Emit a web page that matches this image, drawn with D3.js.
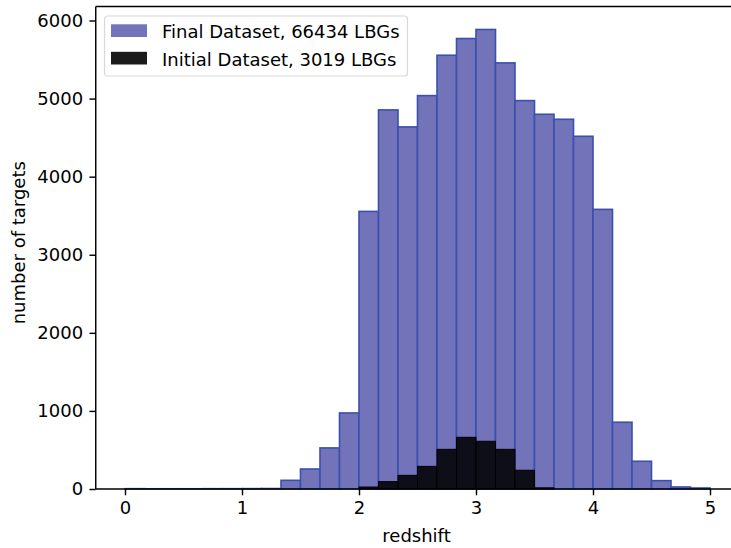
<!DOCTYPE html>
<html>
<head>
<meta charset="utf-8">
<script src="https://cdn.jsdelivr.net/npm/d3@7"></script>
<style>
  html, body { margin: 0; padding: 0; background: #fff; }
  svg { display: block; font-family: "DejaVu Sans", sans-serif; }
</style>
</head>
<body>
<svg id="chart" width="731" height="548"></svg>
<script>
// Histogram bin edges: 30 bins of width 1/6 between redshift 0 and 5
const binCount = 30;
const zMin = 0, zMax = 5;

// Counts per bin, final sample (66434 LBGs)
const finalCounts = [4, 3, 3, 3, 4, 4, 5, 6,
  111, 256, 526, 974, 3555, 4855, 4637, 5038, 5555, 5769, 5885, 5457,
  4974, 4799, 4735, 4517, 3581, 855, 355, 107, 26, 13];

// Counts per bin, initial sample (3019 LBGs)
const initialCounts = [0, 0, 0, 0, 0, 0, 0, 0,
  0, 0, 0, 0, 25, 94, 175, 290, 508, 662, 611, 508,
  240, 15, 0, 0, 0, 0, 0, 0, 0, 0];

const seriesLabels = ["Final Dataset, 66434 LBGs", "Initial Dataset, 3019 LBGs"];
const xTicks = [0, 1, 2, 3, 4, 5];
const yTicks = [0, 1000, 2000, 3000, 4000, 5000, 6000];

const svg = d3.select("#chart");
const margin = { left: 95.75, top: 6.5, bottom: 489 };
const plotRight = 739.25;
const fontSize = "18px";
const lineW = 1.44;

const binWidth = (zMax - zMin) / binCount;
const toBins = counts => counts.map((c, i) => ({ x0: zMin + i * binWidth, x1: zMin + (i + 1) * binWidth, n: c }));
const finalBins = toBins(finalCounts);
const initialBins = toBins(initialCounts);

const xPad = (zMax - zMin) * 0.05;
const x = d3.scaleLinear().domain([zMin - xPad, zMax + xPad]).range([margin.left, plotRight]);
const yMax = d3.max(finalCounts) * 1.05;
const y = d3.scaleLinear().domain([0, yMax]).range([margin.bottom, margin.top]);

// Final dataset bars
svg.append("g").selectAll("rect").data(finalBins).join("rect")
  .attr("x", d => x(d.x0))
  .attr("y", d => y(d.n))
  .attr("width", d => x(d.x1) - x(d.x0))
  .attr("height", d => y(0) - y(d.n))
  .attr("fill", "#7373b9")
  .attr("stroke", "#3a50ad")
  .attr("stroke-width", 1.6);

// Initial dataset bars drawn on top
svg.append("g").selectAll("rect").data(initialBins.filter(d => d.n > 0)).join("rect")
  .attr("x", d => x(d.x0))
  .attr("y", d => y(d.n))
  .attr("width", d => x(d.x1) - x(d.x0))
  .attr("height", d => y(0) - y(d.n))
  .attr("fill", "#0e0e18")
  .attr("stroke", "#000")
  .attr("stroke-width", 1);

// Axes
const xAxis = svg.append("g")
  .attr("transform", `translate(0,${margin.bottom})`)
  .call(d3.axisBottom(x).tickValues(xTicks).tickFormat(d3.format("d")).tickSize(6.3).tickPadding(6.3));
const yAxis = svg.append("g")
  .attr("transform", `translate(${margin.left},0)`)
  .call(d3.axisLeft(y).tickValues(yTicks).tickFormat(d3.format("d")).tickSize(6.3).tickPadding(6.3));
[xAxis, yAxis].forEach(a => {
  a.selectAll("text").attr("font-size", fontSize).attr("font-family", "DejaVu Sans").attr("fill", "#000");
  a.selectAll("line").attr("stroke", "#000").attr("stroke-width", lineW);
  a.select(".domain").remove();
});

// Frame spines
svg.append("line").attr("x1", margin.left).attr("x2", margin.left).attr("y1", margin.top).attr("y2", margin.bottom)
  .attr("stroke", "#000").attr("stroke-width", lineW);
svg.append("line").attr("x1", margin.left).attr("x2", plotRight).attr("y1", margin.bottom).attr("y2", margin.bottom)
  .attr("stroke", "#000").attr("stroke-width", lineW);
svg.append("line").attr("x1", margin.left).attr("x2", plotRight).attr("y1", margin.top).attr("y2", margin.top)
  .attr("stroke", "#000").attr("stroke-width", lineW);

// Axis titles
svg.append("text").attr("x", (margin.left + plotRight) / 2 - 1).attr("y", 542)
  .attr("text-anchor", "middle").attr("font-size", fontSize).text("redshift");
svg.append("text")
  .attr("transform", `translate(25,${(margin.top + margin.bottom) / 2 - 5}) rotate(-90)`)
  .attr("text-anchor", "middle").attr("font-size", fontSize).text("number of targets");

// Legend
const legend = svg.append("g").attr("transform", "translate(104.5,16)");
legend.append("rect").attr("width", 303).attr("height", 60).attr("rx", 3)
  .attr("fill", "#fff").attr("fill-opacity", 0.8).attr("stroke", "#d8d8d8").attr("stroke-width", 1.2);
const legendColors = ["#7373b9", "#1a1a1a"];
seriesLabels.forEach((lab, i) => {
  const row = legend.append("g").attr("transform", `translate(6.5,${8.3 + i * 27.5})`);
  row.append("rect").attr("width", 36).attr("height", 12.7).attr("fill", legendColors[i]);
  row.append("text").attr("x", 51).attr("y", 14).attr("font-size", fontSize).text(lab);
});
</script>
</body>
</html>
